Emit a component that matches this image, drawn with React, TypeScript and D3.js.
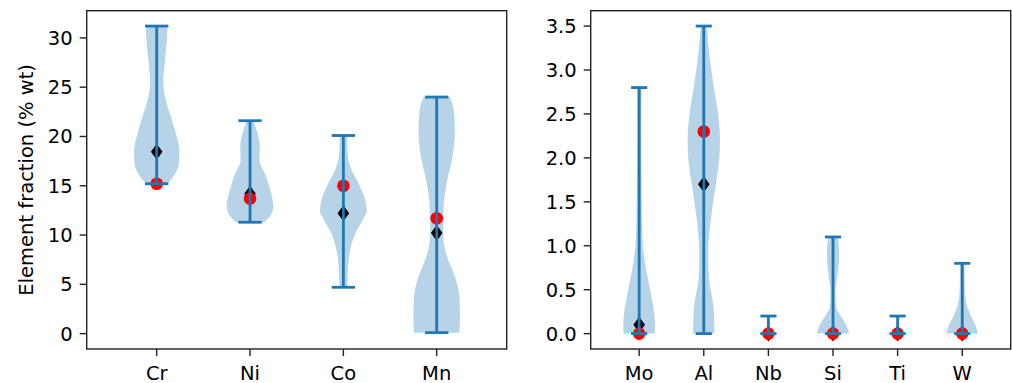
import React from "react";
import * as d3 from "d3";

// Major alloying elements (left panel)
const majorElements = ["Cr", "Ni", "Co", "Mn"];
const majorMin = [15.2, 11.3, 4.7, 0.1];
const majorMax = [31.2, 21.6, 20.1, 24.0];
const majorMedian = [18.45, 14.2, 12.2, 10.2];
const majorReference = [15.2, 13.7, 15.0, 11.7];
// density outline per element: [value, relative half-width]
const majorProfiles: [number, number][][] = [
  [[15.2, 0.46], [16.1, 0.75], [17.15, 0.95], [18.5, 0.97], [20.5, 0.8], [22.2, 0.58], [23.9, 0.37], [25.6, 0.28], [27.3, 0.34], [29.3, 0.42], [30.7, 0.46], [31.2, 0.44]],
  [[11.3, 0.6], [11.9, 0.85], [12.9, 1.0], [14.3, 0.9], [16.0, 0.68], [17.7, 0.4], [18.9, 0.42], [19.9, 0.37], [20.7, 0.27], [21.6, 0.14]],
  [[4.7, 0.17], [6.7, 0.2], [8.4, 0.29], [10.1, 0.5], [11.75, 0.88], [12.4, 1.0], [13.1, 0.98], [15.1, 0.68], [16.8, 0.32], [18.5, 0.17], [20.1, 0.16]],
  [[0.1, 0.97], [1.8, 1.0], [3.8, 0.97], [5.8, 0.78], [7.9, 0.43], [9.9, 0.28], [12.6, 0.29], [15.3, 0.43], [18.0, 0.68], [20.4, 0.78], [22.7, 0.73], [24.0, 0.56]],
];
const majorTicks = [0, 5, 10, 15, 20, 25, 30];

// Minor alloying elements (right panel)
const minorElements = ["Mo", "Al", "Nb", "Si", "Ti", "W"];
const minorMin = [0, 0, 0, 0, 0, 0];
const minorMax = [2.8, 3.5, 0.2, 1.1, 0.2, 0.8];
const minorMedian = [0.1, 1.7, 0, 0, 0, 0];
const minorReference = [0, 2.3, 0, 0, 0, 0];
const minorProfiles: [number, number][][] = [
  [[0, 0.97], [0.1, 0.98], [0.25, 0.92], [0.5, 0.68], [0.75, 0.41], [1.0, 0.23], [1.3, 0.17], [1.8, 0.14], [2.3, 0.13], [2.8, 0.14]],
  [[0, 0.66], [0.2, 0.64], [0.34, 0.58], [0.61, 0.33], [0.91, 0.27], [1.29, 0.43], [1.67, 0.72], [1.97, 0.95], [2.2, 1.0], [2.43, 0.93], [2.81, 0.62], [3.19, 0.33], [3.5, 0.19]],
  [[0, 1.0], [0.008, 0.55], [0.02, 0.22], [0.04, 0.08], [0.08, 0.03], [0.2, 0.02]],
  [[0, 1.0], [0.095, 0.83], [0.19, 0.52], [0.3, 0.2], [0.46, 0.15], [0.64, 0.25], [0.83, 0.37], [0.99, 0.37], [1.1, 0.25]],
  [[0, 1.0], [0.008, 0.55], [0.02, 0.22], [0.04, 0.08], [0.08, 0.03], [0.2, 0.02]],
  [[0, 0.98], [0.095, 0.82], [0.19, 0.57], [0.34, 0.26], [0.5, 0.16], [0.645, 0.14], [0.8, 0.15]],
];
const minorTicks = [0, 0.5, 1.0, 1.5, 2.0, 2.5, 3.0, 3.5];

const W = 1012;
const H = 383;
const TOP = 10.7;
const BOTTOM = 349;
const FONT = "DejaVu Sans, sans-serif";
const FS = 19.5;
const BLUE = "#1f77b4";
const TICK = 7;
const PAD = 7;

type PanelProps = {
  left: number;
  right: number;
  elements: string[];
  mins: number[];
  maxs: number[];
  medians: number[];
  refs: number[];
  profiles: [number, number][][];
  ticks: number[];
  yDomain: [number, number];
  fmt: (v: number) => string;
  ylabel?: string;
};

function Panel(p: PanelProps) {
  const n = p.elements.length;
  const x = d3.scaleLinear().domain([0.25, n + 0.75]).range([p.left, p.right]);
  const y = d3.scaleLinear().domain(p.yDomain).range([BOTTOM, TOP]);
  const unit = x(1) - x(0);
  const halfMax = 0.25 * unit;
  const capHalf = 0.125 * unit;

  return (
    <g>
      {/* violin bodies */}
      {p.profiles.map((prof, i) => {
        const cx = x(i + 1);
        const area = d3
          .area<[number, number]>()
          .y((d) => y(d[0]))
          .x0((d) => cx - d[1] * halfMax)
          .x1((d) => cx + d[1] * halfMax)
          .curve(d3.curveMonotoneY);
        return <path key={"b" + i} d={area(prof) || ""} fill={BLUE} fillOpacity={0.32} stroke="none" />;
      })}
      {/* medians */}
      {p.medians.map((v, i) => {
        const cx = x(i + 1);
        const cy = y(v);
        const hw = 5.8;
        const hh = 8;
        return (
          <path
            key={"m" + i}
            d={`M${cx},${cy - hh}L${cx + hw},${cy}L${cx},${cy + hh}L${cx - hw},${cy}Z`}
            fill="#000"
          />
        );
      })}
      {/* reference composition */}
      {p.refs.map((v, i) => (
        <circle key={"r" + i} cx={x(i + 1)} cy={y(v)} r={6.3} fill="#ff0000" />
      ))}
      {/* extrema bars */}
      {p.elements.map((_, i) => {
        const cx = x(i + 1);
        return (
          <g key={"l" + i} stroke={BLUE} strokeWidth={2.8}>
            <line x1={cx} x2={cx} y1={y(p.mins[i])} y2={y(p.maxs[i])} />
            <line x1={cx - capHalf} x2={cx + capHalf} y1={y(p.mins[i])} y2={y(p.mins[i])} />
            <line x1={cx - capHalf} x2={cx + capHalf} y1={y(p.maxs[i])} y2={y(p.maxs[i])} />
          </g>
        );
      })}
      {/* frame */}
      <rect x={p.left} y={TOP} width={p.right - p.left} height={BOTTOM - TOP} fill="none" stroke="#222" strokeWidth={1.4} />
      {/* y axis */}
      {p.ticks.map((t) => (
        <g key={"yt" + t}>
          <line x1={p.left - TICK} x2={p.left} y1={y(t)} y2={y(t)} stroke="#222" strokeWidth={1.4} />
          <text
            x={p.left - TICK - PAD}
            y={y(t) + 0.36 * FS}
            textAnchor="end"
            fontFamily={FONT}
            fontSize={FS}
            fill="#000"
          >
            {p.fmt(t)}
          </text>
        </g>
      ))}
      {/* x axis */}
      {p.elements.map((e, i) => (
        <g key={"xt" + e}>
          <line x1={x(i + 1)} x2={x(i + 1)} y1={BOTTOM} y2={BOTTOM + TICK} stroke="#222" strokeWidth={1.4} />
          <text x={x(i + 1)} y={379.5} textAnchor="middle" fontFamily={FONT} fontSize={FS} fill="#000">
            {e}
          </text>
        </g>
      ))}
      {p.ylabel && (
        <text
          transform={`translate(${33},${(TOP + BOTTOM) / 2}) rotate(-90)`}
          textAnchor="middle"
          fontFamily={FONT}
          fontSize={FS}
          fill="#000"
        >
          {p.ylabel}
        </text>
      )}
    </g>
  );
}

export default function App() {
  return (
    <svg
      width={W}
      height={H}
      viewBox={`0 0 ${W} ${H}`}
      style={{ position: "absolute", left: 0, top: 0, background: "#fff" }}
    >
      <rect width={W} height={H} fill="#fff" />
      <Panel
        left={86.7}
        right={506.7}
        elements={majorElements}
        mins={majorMin}
        maxs={majorMax}
        medians={majorMedian}
        refs={majorReference}
        profiles={majorProfiles}
        ticks={majorTicks}
        yDomain={[-1.56, 32.76]}
        fmt={(v) => String(v)}
        ylabel="Element fraction (% wt)"
      />
      <Panel
        left={590.7}
        right={1010.7}
        elements={minorElements}
        mins={minorMin}
        maxs={minorMax}
        medians={minorMedian}
        refs={minorReference}
        profiles={minorProfiles}
        ticks={minorTicks}
        yDomain={[-0.175, 3.675]}
        fmt={(v) => v.toFixed(1)}
      />
    </svg>
  );
}
